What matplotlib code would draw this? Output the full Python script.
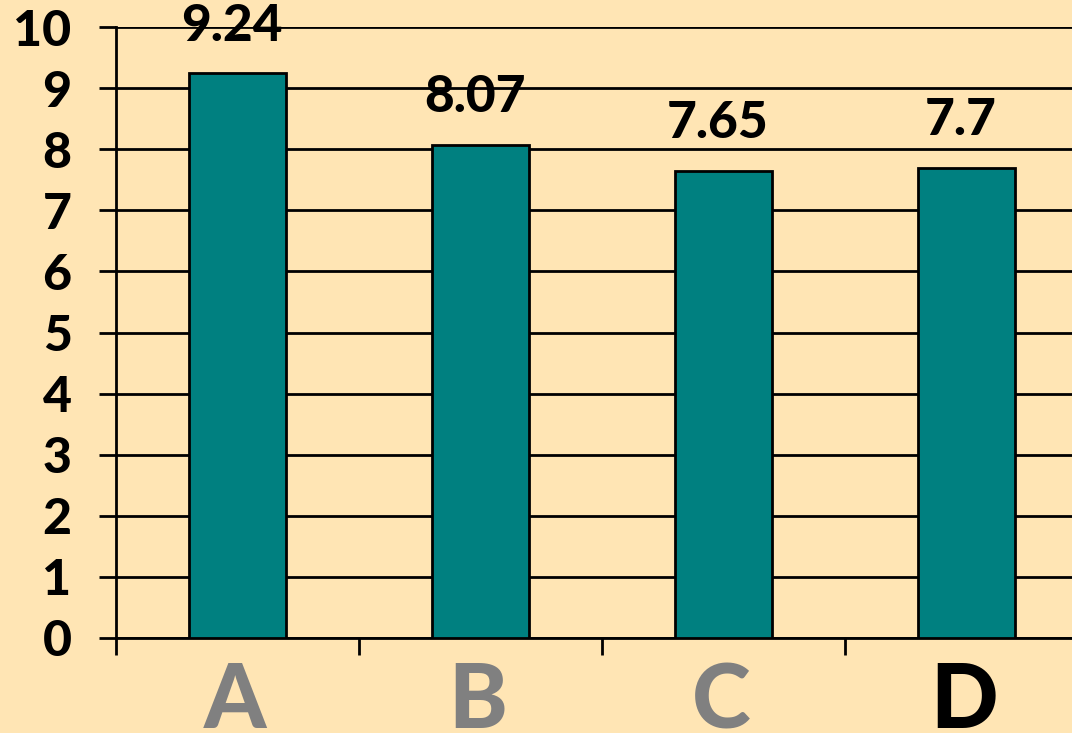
import matplotlib
matplotlib.use("Agg")
import matplotlib.pyplot as plt

categories = ["A", "B", "C", "D"]
values = [9.24, 8.07, 7.65, 7.7]
value_labels = ["9.24", "8.07", "7.65", "7.7"]
label_colors = ["#808080", "#808080", "#808080", "#000000"]
yticks = list(range(0, 11))

BG = "#FFE5B4"
FONT = ["Lato", "DejaVu Sans"]

fig = plt.figure(figsize=(10.72, 7.33), dpi=100, facecolor=BG)
W, H = 1072, 733
ax = fig.add_axes([116 / W, 1 - 638 / H, (1072 - 116) / W, (638 - 27) / H])
ax.set_facecolor(BG)

x = list(range(len(categories)))
ax.bar(x, values, width=0.4, color="#008080", edgecolor="#000000", linewidth=2, zorder=3)

ax.set_ylim(0, 10)
ax.set_xlim(-0.5, -0.5 + (1072 - 116) / 243)
ax.set_yticks(yticks)
ax.set_yticklabels([str(t) for t in yticks], fontsize=36, fontweight="black", family=FONT)
ax.yaxis.grid(True, color="#000000", linewidth=2, zorder=0)
ax.tick_params(axis="y", length=12, width=2, pad=20)

ax.set_xticks([-0.5, 0.5, 1.5, 2.5])
ax.set_xticklabels([])
ax.tick_params(axis="x", length=12, width=2)
for xi, cat, c in zip(x, categories, label_colors):
    ax.annotate(cat, xy=(xi, 0), xycoords="data", xytext=(-2, -65), textcoords="offset points",
                ha="center", va="baseline", fontsize=64, fontweight="black", family=FONT,
                color=c, annotation_clip=False)

for xi, v, lab in zip(x, values, value_labels):
    ax.annotate(lab, xy=(xi, v), xytext=(-4, 17), textcoords="offset points",
                ha="center", va="bottom", fontsize=37, fontweight="black", family=FONT,
                color="#000000", annotation_clip=False, zorder=5)

for s in ["top", "right"]:
    ax.spines[s].set_visible(False)
ax.spines["left"].set_linewidth(2)
ax.spines["bottom"].set_linewidth(2)

fig.savefig("out.png", dpi=100, facecolor=BG)
